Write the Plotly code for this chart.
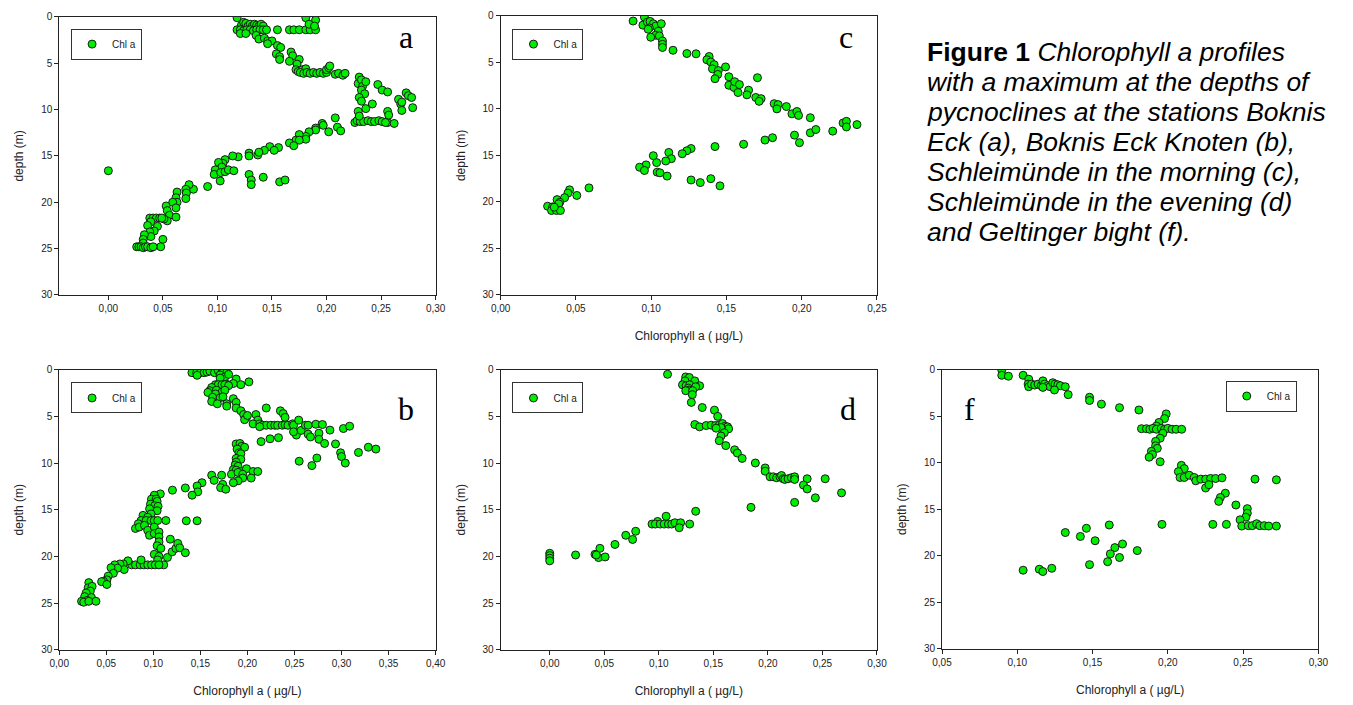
import plotly.graph_objects as go

# ---------------- data (Chlorophyll a [µg/L], depth [m]) ----------------
a_chl = [0.118, 0.122, 0.124, 0.126, 0.128, 0.130, 0.132, 0.134, 0.136, 0.138, 0.140, 0.142,
         0.118, 0.121, 0.124, 0.127, 0.130, 0.133, 0.136, 0.139, 0.142, 0.145, 0.155, 0.166, 0.170,
         0.175, 0.181, 0.185, 0.190, 0.121, 0.126, 0.181, 0.190, 0.184, 0.189,
         0.1355, 0.138, 0.143, 0.146, 0.150, 0.146, 0.155, 0.158, 0.154, 0.157, 0.157, 0.1675, 0.169,
         0.166, 0.175, 0.173, 0.172, 0.174, 0.178, 0.181,
         0.176, 0.179, 0.182, 0.185, 0.188, 0.191, 0.194, 0.197, 0.200, 0.200, 0.202, 0.203, 0.208,
         0.211, 0.215, 0.217,
         0.230, 0.229, 0.232, 0.233, 0.236, 0.232, 0.235, 0.230, 0.232, 0.236, 0.242, 0.247, 0.251,
         0.256, 0.266, 0.268, 0.269, 0.273, 0.275, 0.278, 0.279, 0.269,
         0.226, 0.228, 0.231, 0.234, 0.238, 0.241, 0.244, 0.248, 0.251, 0.256, 0.262, 0.229, 0.230,
         0.256, 0.257, 0.254,
         0.208, 0.196, 0.197, 0.190, 0.190, 0.210, 0.213, 0.202, 0.184, 0.181, 0.181, 0.175, 0.172,
         0.175, 0.166, 0.170, 0.156, 0.148, 0.152, 0.143, 0.137, 0.138, 0.129, 0.129, 0.119, 0.114,
         0.107, 0.105, 0.101, 0.104, 0.098, 0.097, 0.103, 0.107, 0.110, 0.115, 0.1025, 0.129, 0.131,
         0.131, 0.142, 0.157, 0.162, 0.091,
         0.078, 0.074, 0.071, 0.0715, 0.071, 0.063, 0.062, 0.063, 0.059, 0.053, 0.054, 0.056, 0.062,
         0.062, 0.054, 0.051, 0.038, 0.041, 0.044, 0.047, 0.049, 0.039, 0.036, 0.045, 0.042, 0.038,
         0.039, 0.033, 0.032, 0.050, 0.048, 0.032,
         0.026, 0.028, 0.030, 0.032, 0.034, 0.036, 0.039, 0.041, 0.000]
a_depth = [0.1, 0.9, 0.6, 0.7, 1.0, 0.8, 1.0, 0.8, 0.9, 1.0, 0.8, 1.0,
           1.4, 1.4, 1.5, 1.4, 1.4, 1.5, 1.4, 1.4, 1.4, 1.4, 1.4, 1.4, 1.4,
           1.4, 1.4, 1.4, 1.4, 1.8, 1.8, 0.1, 0.35, 0.8, 1.0,
           2.0, 2.4, 2.3, 2.6, 2.6, 2.9, 3.1, 3.3, 4.0, 4.3, 4.6, 3.8, 4.2,
           4.8, 4.6, 5.1, 5.7, 5.9, 5.7, 5.6,
           6.0, 6.1, 6.0, 6.1, 6.0, 6.1, 6.0, 6.1, 6.0, 5.7, 5.5, 5.3, 6.2,
           6.1, 6.3, 6.1,
           6.5, 7.2, 6.8, 7.5, 7.0, 7.9, 8.3, 8.7, 9.1, 9.9, 9.4, 7.3, 7.9,
           8.1, 8.9, 9.4, 10.1, 8.2, 8.5, 8.7, 9.8, 9.2,
           11.4, 11.2, 11.3, 11.3, 11.2, 11.3, 11.3, 11.2, 11.3, 11.4, 11.5, 10.2, 10.7,
           10.2, 10.6, 11.4,
           10.9, 11.5, 11.7, 12.0, 12.2, 11.9, 12.3, 12.4, 12.4, 12.9, 13.2, 12.7, 13.3,
           13.3, 13.6, 13.9, 14.1, 14.0, 14.4, 14.4, 14.9, 14.6, 14.7, 15.0, 15.1, 15.0,
           15.4, 15.8, 15.7, 16.2, 16.5, 17.0, 16.8, 16.7, 16.5, 16.6, 17.7, 17.0, 17.6,
           18.1, 17.3, 17.8, 17.6, 18.3,
           18.6, 18.1, 18.6, 19.0, 19.6, 18.9, 19.5, 20.0, 20.0, 20.4, 20.9, 21.4, 20.6,
           21.6, 22.0, 21.8, 21.7, 21.7, 21.7, 21.7, 21.7, 22.1, 22.5, 22.6, 23.1, 23.2,
           23.7, 23.5, 24.0, 24.0, 24.8, 24.4,
           24.8, 24.8, 24.8, 24.9, 24.8, 24.8, 24.9, 24.8, 16.6]

b_chl = [0.141, 0.146, 0.150, 0.154, 0.157, 0.160, 0.165, 0.169, 0.173, 0.174, 0.178, 0.1465,
         0.171, 0.176, 0.180, 0.188, 0.193, 0.2016, 0.185, 0.178, 0.171, 0.166, 0.169, 0.173,
         0.176, 0.180, 0.162, 0.160, 0.158, 0.167, 0.173, 0.176, 0.166, 0.163, 0.171, 0.174,
         0.162, 0.168, 0.178, 0.178, 0.185, 0.188, 0.188, 0.193, 0.196, 0.199, 0.197, 0.200,
         0.209, 0.220, 0.211, 0.206, 0.213,
         0.216, 0.220, 0.225, 0.229, 0.232, 0.237, 0.240, 0.243, 0.235, 0.238, 0.240, 0.213,
         0.248, 0.249, 0.2545, 0.252, 0.249, 0.257, 0.2616, 0.2645, 0.2645, 0.267, 0.2727,
         0.2797, 0.276, 0.276, 0.282, 0.2877, 0.2936, 0.302, 0.3086, 0.299, 0.300, 0.304, 0.318,
         0.3285, 0.3365, 0.255, 0.2685, 0.2738, 0.2145, 0.224, 0.233,
         0.188, 0.192, 0.194, 0.197, 0.189, 0.191, 0.193, 0.188, 0.193, 0.188, 0.187, 0.190,
         0.185, 0.188, 0.193, 0.199, 0.206, 0.211, 0.183, 0.190, 0.195, 0.204, 0.195, 0.190,
         0.185,
         0.1726, 0.162, 0.1646, 0.1737, 0.1715, 0.177, 0.1517, 0.1465, 0.1472, 0.1412, 0.134,
         0.1203, 0.135, 0.1465,
         0.1074, 0.101, 0.098, 0.103, 0.104, 0.097, 0.1015, 0.105, 0.096, 0.104, 0.0976, 0.089,
         0.094, 0.087, 0.0924, 0.0976, 0.101, 0.1046, 0.1133, 0.084, 0.081, 0.085, 0.0906,
         0.094, 0.101, 0.0959, 0.101, 0.106, 0.106, 0.106, 0.104, 0.108, 0.101, 0.106, 0.1046,
         0.111, 0.115, 0.118, 0.120, 0.124, 0.126, 0.128, 0.134,
         0.077, 0.081, 0.086, 0.090, 0.094, 0.098, 0.102, 0.106, 0.087, 0.073,
         0.068, 0.0645, 0.069, 0.059, 0.062, 0.055, 0.0575, 0.052, 0.0506, 0.047, 0.045, 0.0506,
         0.0314, 0.0307, 0.0349, 0.033, 0.0286, 0.027, 0.0342, 0.0296, 0.0237, 0.026, 0.0314,
         0.039]
b_depth = [0.32, 0.32, 0.32, 0.32, 0.25, 0.15, 0.32, 0.1, 0.32, 0.2, 0.32, 0.6,
           0.56, 0.77, 0.5, 1.0, 1.6, 1.3, 1.48, 1.55, 0.9, 1.6, 1.6, 1.6,
           1.6, 1.7, 1.9, 2.25, 2.43, 2.2, 2.4, 2.2, 2.6, 2.95, 3.0, 2.9,
           3.4, 3.65, 3.65, 3.9, 3.1, 3.5, 4.1, 4.4, 4.8, 5.1, 5.35, 4.9,
           4.8, 4.1, 5.4, 5.8, 5.8,
           5.95, 5.95, 5.95, 5.95, 5.95, 5.95, 5.9, 5.95, 4.4, 4.7, 5.1, 6.1,
           5.8, 5.95, 5.4, 7.0, 6.65, 6.5, 5.95, 5.95, 6.9, 7.2, 5.84,
           5.87, 6.8, 7.45, 7.9, 6.47, 7.95, 6.3, 6.05, 8.9, 9.3, 10.0, 8.86,
           8.3, 8.5, 9.8, 10.27, 9.46, 7.7, 7.4, 7.28,
           7.95, 7.9, 8.2, 8.3, 8.5, 8.9, 9.0, 9.5, 9.6, 9.9, 10.2, 10.35,
           10.7, 10.76, 10.9, 10.6, 10.9, 10.9, 11.2, 11.0, 11.2, 11.6, 11.6, 11.9,
           12.1,
           11.3, 11.3, 11.85, 12.28, 12.63, 12.8, 12.1, 12.45, 13.08, 13.44, 12.66,
           12.9, 16.18, 16.18,
           13.3, 13.44, 13.86, 13.86, 14.1, 14.4, 14.56, 14.63, 14.9, 15.1, 15.44, 15.6,
           15.8, 16.15, 16.15, 16.15, 16.15, 16.15, 16.15, 16.5, 17.0, 16.85, 16.67,
           17.2, 16.85, 17.73, 17.55, 17.38, 17.9, 18.43, 18.85, 19.13, 19.77, 20.0, 20.37,
           20.9, 20.1, 18.15, 19.5, 19.13, 18.6, 19.07, 19.6,
           20.9, 20.9, 20.9, 20.9, 20.9, 20.9, 20.9, 20.9, 20.37, 20.47,
           20.8, 20.8, 21.4, 20.9, 21.25, 21.2, 21.8, 22.1, 22.5, 22.65, 22.7, 23.0,
           22.8, 23.35, 23.2, 23.7, 23.9, 24.3, 24.4, 24.7, 24.8, 24.9, 24.8,
           24.8]

c_chl = [0.0955, 0.088, 0.0945, 0.0975, 0.0993, 0.1014, 0.103, 0.0988, 0.098, 0.1067, 0.1047,
         0.103, 0.0997, 0.1054, 0.1075, 0.1075, 0.1075, 0.1145, 0.1237, 0.1298, 0.1385, 0.137,
         0.1396, 0.1418, 0.1407, 0.1446, 0.1442, 0.1424, 0.1494, 0.1516, 0.1516, 0.155, 0.1555,
         0.1586, 0.1577, 0.1647, 0.1636, 0.1706, 0.1695, 0.173, 0.1717, 0.1817, 0.1843, 0.1835,
         0.1898, 0.1935, 0.1968, 0.1979, 0.2057, 0.2057, 0.2094, 0.2206, 0.2275, 0.2297, 0.2297,
         0.2367, 0.1952, 0.1985, 0.1806, 0.1756, 0.1614, 0.1424, 0.1265, 0.1237, 0.1206, 0.1117,
         0.1134, 0.1097, 0.1036, 0.1014, 0.0966, 0.0923, 0.0955, 0.104, 0.1058, 0.1106, 0.1265,
         0.1326, 0.1396, 0.1457, 0.0587, 0.0458, 0.0447, 0.0506, 0.0425, 0.0375, 0.0393, 0.0386,
         0.0312, 0.0345, 0.036, 0.0338, 0.0371, 0.0397, 0.0356]
c_depth = [0.14, 0.56, 1.0, 0.67, 0.6, 0.85, 1.1, 1.3, 1.44, 0.85, 1.65,
           2.08, 2.3, 2.15, 2.7, 3.06, 3.4, 3.7, 4.05, 4.08, 4.37, 4.72,
           4.96, 5.25, 5.7, 5.88, 6.3, 6.76, 5.49, 6.55, 7.46, 7.7, 7.08,
           7.39, 8.24, 7.99, 8.49, 6.65, 8.77, 8.9, 9.19, 9.44, 9.54, 10.0,
           9.75, 10.53, 10.28, 10.7, 10.95, 12.57, 12.22, 12.39, 11.51, 11.34, 11.94,
           11.69, 12.82, 13.63, 13.1, 13.35, 13.8, 14.05, 14.26, 14.5, 14.82, 14.68,
           15.35, 15.6, 15.77, 15.03, 16.02, 16.27, 16.62, 16.8, 16.87, 17.22, 17.64,
           17.92, 17.5, 18.27, 18.49, 18.7, 19.05, 19.3, 19.54, 19.75, 20.04, 20.2,
           20.46, 20.53, 20.74, 20.92, 20.92, 20.92, 20.56]

d_chl = [0.108, 0.1247, 0.128, 0.124, 0.133, 0.1217, 0.125, 0.1283, 0.1374, 0.1338, 0.127,
         0.1277, 0.1247, 0.131, 0.1307, 0.1298, 0.1398, 0.151, 0.154, 0.133, 0.1374, 0.1434,
         0.148, 0.152, 0.1554, 0.1584, 0.1608, 0.163, 0.164, 0.157, 0.1525, 0.160, 0.157,
         0.1554, 0.1614, 0.1695, 0.172, 0.1764, 0.1885, 0.1975, 0.1975, 0.202, 0.205, 0.208,
         0.211, 0.2125, 0.214, 0.2155, 0.2185, 0.2215, 0.2245, 0.2245, 0.236, 0.2525, 0.2326,
         0.236, 0.2675, 0.2435, 0.2245, 0.1845, 0.1338, 0.1067, 0.0989, 0.0938, 0.0968, 0.1013,
         0.1049, 0.1088, 0.1118, 0.1148, 0.120, 0.1187, 0.1283, 0.0788, 0.0697, 0.076, 0.0598,
         0.046, 0.0415, 0.0448, 0.0508, 0.0237, 0.0, 0.0, 0.0, 0.0, 0.0427]
d_depth = [0.49, 0.77, 0.84, 1.2, 1.2, 1.62, 1.72, 1.62, 1.72, 1.83, 1.97,
           2.18, 2.25, 2.25, 2.67, 3.5, 4.05, 4.33, 5.0, 5.87, 6.12, 5.98,
           5.94, 5.98, 5.94, 5.77, 6.05, 6.12, 6.33, 6.19, 6.26, 6.75, 7.1,
           7.6, 8.13, 8.58, 8.93, 9.5, 9.99, 10.52, 10.87, 11.47, 11.47, 11.57,
           11.47, 11.33, 11.68, 11.75, 11.68, 11.57, 11.47, 11.75, 11.68, 11.68, 12.35,
           12.77, 13.19, 13.72, 14.21, 14.74, 15.16, 15.69, 16.25, 16.53, 16.53, 16.53,
           16.53, 16.53, 16.53, 16.39, 16.39, 16.92, 16.53, 17.3, 17.73, 18.18, 18.71,
           19.13, 19.77, 20.12, 20.05, 19.84, 19.66, 19.9, 20.19, 20.47, 19.84]

f_chl = [0.0897, 0.0897, 0.0941, 0.1039, 0.1076, 0.1072, 0.1076, 0.1094, 0.1116, 0.1138,
         0.1159, 0.117, 0.1181, 0.1203, 0.1218, 0.1236, 0.1251, 0.1269, 0.1286, 0.1247, 0.117,
         0.1319, 0.1338, 0.148, 0.148, 0.1559, 0.1679, 0.1808, 0.1989, 0.1978, 0.1941, 0.1924,
         0.1825, 0.1858, 0.188, 0.1902, 0.1924, 0.1956, 0.1978, 0.2, 0.2028, 0.2055, 0.2092,
         0.1967, 0.1949, 0.1919, 0.1919, 0.193, 0.1891, 0.1898, 0.1876, 0.1949, 0.209, 0.2109,
         0.207, 0.2081, 0.2109, 0.2142, 0.2175, 0.2186, 0.2219, 0.2251, 0.2284, 0.2317, 0.236,
         0.2251, 0.2273, 0.2382, 0.2349, 0.2338, 0.2452, 0.2528, 0.2528, 0.2518, 0.248, 0.2491,
         0.2535, 0.2561, 0.259, 0.2611, 0.264, 0.267, 0.2721, 0.2579, 0.2721, 0.1961, 0.2299,
         0.2389, 0.1611, 0.1459, 0.1319, 0.1419, 0.1517, 0.1699, 0.1648, 0.1797, 0.1618, 0.1679,
         0.16, 0.148, 0.1229, 0.1146, 0.117, 0.1039]
f_depth = [0.04, 0.6, 0.7, 0.6, 1.02, 1.55, 1.83, 1.55, 1.65, 1.55, 1.72, 1.2, 1.55, 1.72,
           1.83, 1.4, 1.55, 1.62, 1.72, 2.18, 1.9, 1.83, 2.68, 2.96, 3.31, 3.7, 4.08, 4.33, 4.75,
           5.25, 5.67, 6.06, 6.34, 6.34, 6.4, 6.3, 6.4, 6.3, 6.4, 6.3, 6.4, 6.4, 6.4,
           6.83, 7.36, 7.7, 8.17, 8.45, 8.77, 9.12, 9.4, 9.89, 10.28, 10.63,
           10.95, 11.58, 11.58, 11.34, 11.58, 11.94, 11.76, 11.76, 11.69, 11.69, 11.62,
           12.71, 12.36, 13.27, 13.73, 14.15, 14.54, 14.93, 15.42, 15.85, 16.13, 16.8,
           16.76, 16.76, 16.55, 16.76, 16.76, 16.8, 16.8, 11.76, 11.83, 16.62, 16.62,
           16.62, 16.69, 17.04, 17.5, 17.92, 18.38, 18.73, 19.12, 19.44, 19.79, 20.18,
           20.63, 20.95, 21.34, 21.44, 21.69, 21.55]

legend_label = "Chl a"
x_title = "Chlorophyll a ( µg/L)"
y_title = "depth (m)"
depth_ticks = [0, 5, 10, 15, 20, 25, 30]
caption_lines = [
    "<b>Figure 1</b> <i>Chlorophyll a profiles</i>",
    "<i>with a maximum at the depths of</i>",
    "<i>pycnoclines at the stations Boknis</i>",
    "<i>Eck (a), Boknis Eck Knoten (b),</i>",
    "<i>Schleimünde in the morning (c),</i>",
    "<i>Schleimünde in the evening (d)</i>",
    "<i>and Geltinger bight (f).</i>",
]

# ---------------- layout geometry ----------------
W, H = 1353, 705
FONT = "Liberation Sans, Arial, sans-serif"
SERIF = "Liberation Serif, Times New Roman, serif"


def px_x(p):
    return p / W


def px_y(p):
    return 1 - p / H


panels = [
    dict(chl=a_chl, dep=a_depth, xp=(50, 432), yp=(11, 294), xr=[-0.045, 0.30],
         xt=[0, 0.05, 0.10, 0.15, 0.20, 0.25, 0.30], xtitle=False, leg=(62, 23), let=(402, 32), L="a"),
    dict(chl=c_chl, dep=c_depth, xp=(498, 880), yp=(10, 294), xr=[0, 0.25],
         xt=[0, 0.05, 0.10, 0.15, 0.20, 0.25], xtitle=True, leg=(510, 23), let=(849, 32), L="c"),
    dict(chl=b_chl, dep=b_depth, xp=(50, 432), yp=(370, 655), xr=[0, 0.40],
         xt=[0, 0.05, 0.10, 0.15, 0.20, 0.25, 0.30, 0.35, 0.40], xtitle=True, leg=(62, 383), let=(402, 410), L="b"),
    dict(chl=d_chl, dep=d_depth, xp=(498, 880), yp=(370, 655), xr=[-0.045, 0.30],
         xt=[0, 0.05, 0.10, 0.15, 0.20, 0.25, 0.30], xtitle=True, leg=(510, 383), let=(851, 410), L="d"),
    dict(chl=f_chl, dep=f_depth, xp=(946, 1328), yp=(370, 654), xr=[0.05, 0.30],
         xt=[0.05, 0.10, 0.15, 0.20, 0.25, 0.30], xtitle=True, leg=(1234, 381), let=(974, 410), L="f"),
]

fig = go.Figure()
annotations = []
layout_upd = {}

for i, p in enumerate(panels):
    k = "" if i == 0 else str(i + 1)
    xa, ya = "x" + k, "y" + k
    leg = "legend" + k
    fig.add_trace(go.Scatter(
        x=p["chl"], y=p["dep"], mode="markers", name=legend_label,
        xaxis=xa, yaxis=ya, legend=leg, showlegend=True,
        marker=dict(size=8, color="#00ee00", line=dict(color="#1a1a1a", width=1)),
    ))
    axis_common = dict(showline=True, linecolor="#222", linewidth=1, mirror=True,
                       ticks="outside", ticklen=4, tickcolor="#222", showgrid=False,
                       zeroline=False, tickfont=dict(family=FONT, size=10, color="#222"))
    layout_upd["xaxis" + k] = dict(
        domain=[px_x(p["xp"][0]), px_x(p["xp"][1])], range=p["xr"], anchor=ya,
        tickvals=p["xt"], tickformat=".2f",
        title=dict(text=x_title if p["xtitle"] else "", font=dict(family=FONT, size=12, color="#222"),
                   standoff=18),
        **axis_common)
    layout_upd["yaxis" + k] = dict(
        domain=[px_y(p["yp"][1]), px_y(p["yp"][0])], range=[30, 0], anchor=xa,
        tickvals=depth_ticks,
        title=dict(text=y_title, font=dict(family=FONT, size=12, color="#222"), standoff=14),
        **axis_common)
    layout_upd[leg] = dict(
        x=px_x(p["leg"][0]), y=px_y(p["leg"][1]), xanchor="left", yanchor="top",
        bordercolor="#333", borderwidth=1, bgcolor="white",
        font=dict(family=FONT, size=10, color="#222"), itemwidth=30,
    )
    annotations.append(dict(
        text=p["L"], xref="paper", yref="paper", x=px_x(p["let"][0]), y=px_y(p["let"][1]),
        xanchor="center", yanchor="middle", showarrow=False,
        font=dict(family=SERIF, size=32, color="black")))

CAP_SIZE = 26.5
for j, line in enumerate(caption_lines):
    baseline = 56 + 30.5 * j
    annotations.append(dict(
        text=line, xref="paper", yref="paper", x=px_x(929), y=px_y(baseline - 9),
        xanchor="left", yanchor="middle", align="left", showarrow=False,
        font=dict(family=FONT, size=CAP_SIZE, color="black")))

fig.update_layout(
    width=W, height=H, margin=dict(l=0, r=0, t=0, b=0),
    paper_bgcolor="white", plot_bgcolor="white",
    separators=",.", annotations=annotations, **layout_upd,
)

fig.write_html("out.html")
